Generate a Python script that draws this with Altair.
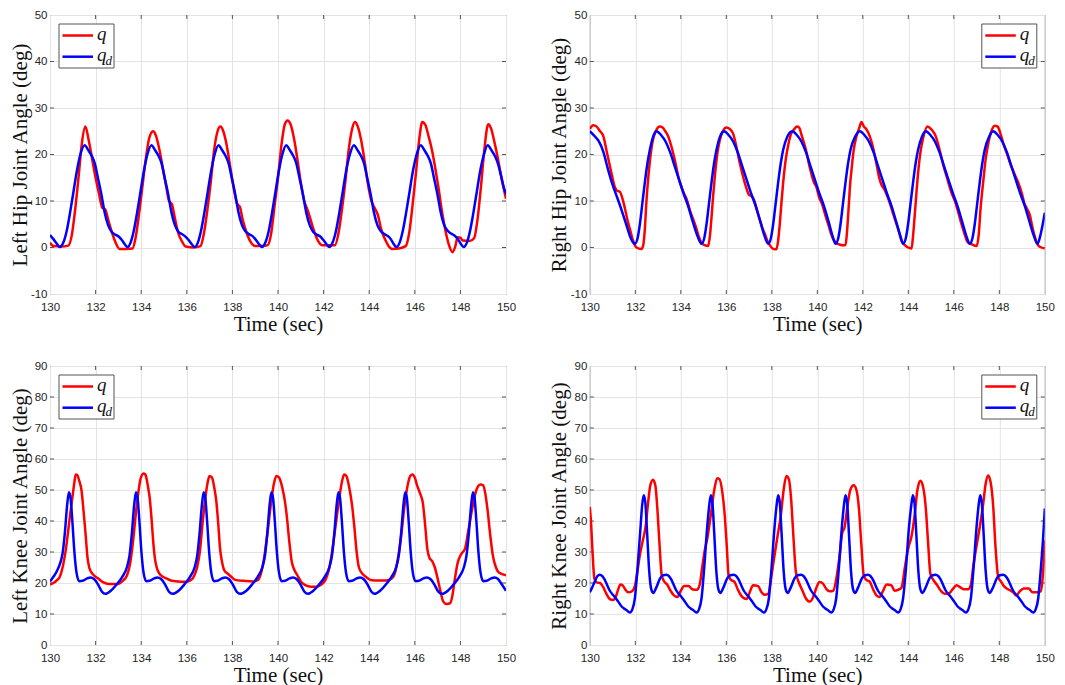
import altair as alt
import pandas as pd

X_TICKS = [130, 132, 134, 136, 138, 140, 142, 144, 146, 148, 150]
HIP_TICKS = [-10, 0, 10, 20, 30, 40, 50]
KNEE_TICKS = [0, 10, 20, 30, 40, 50, 60, 70, 80, 90]

LH_Q = [(130.0, 1.0), (130.15, 0.3), (130.5, 0.2), (130.8, 0.4), (130.95, 2.5), (131.1, 8), (131.25, 15), (131.4, 22.5), (131.55, 26), (131.7, 23), (131.85, 19), (132.0, 15), (132.15, 11.5), (132.3, 8.5), (132.42, 8.2), (132.55, 6), (132.7, 3.5), (132.88, 1), (133.05, -0.3), (133.35, -0.3), (133.62, -0.2), (133.75, 2), (133.9, 7), (134.05, 13), (134.2, 19), (134.35, 23.5), (134.52, 25), (134.65, 24), (134.8, 21), (134.95, 17), (135.1, 13), (135.22, 10), (135.35, 9.3), (135.45, 7), (135.6, 3.5), (135.8, 1.2), (135.95, 0.2), (136.3, 0), (136.6, 0.3), (136.75, 3), (136.9, 8), (137.05, 14), (137.2, 21), (137.35, 25), (137.47, 26), (137.6, 25), (137.75, 22), (137.9, 17.5), (138.05, 13), (138.2, 9.5), (138.33, 8.7), (138.45, 6), (138.6, 3.5), (138.8, 1.2), (139.0, 0.3), (139.3, 0.3), (139.55, 0.5), (139.7, 3), (139.85, 9), (140.0, 15), (140.15, 22), (140.3, 26.5), (140.42, 27.3), (140.55, 26.5), (140.7, 23.5), (140.85, 19), (141.0, 14), (141.15, 10), (141.28, 8.3), (141.4, 6.5), (141.55, 4), (141.75, 1.5), (141.95, 0.5), (142.2, 0.5), (142.5, 0.5), (142.65, 3), (142.8, 8), (142.95, 14), (143.1, 21), (143.25, 25.5), (143.37, 27), (143.5, 26), (143.65, 23), (143.8, 18.5), (143.95, 13.5), (144.1, 10), (144.25, 8.4), (144.38, 7), (144.52, 4), (144.72, 1.5), (144.9, 0), (145.0, -0.3), (145.3, -0.2), (145.6, 0.3), (145.75, 3), (145.9, 9), (146.05, 16), (146.2, 23.5), (146.33, 27), (146.47, 26.3), (146.6, 24), (146.75, 21), (146.9, 17), (147.05, 12.5), (147.2, 7.5), (147.35, 3.5), (147.5, 0.5), (147.65, -1), (147.78, 0.3), (147.88, 2.2), (148.0, 2.1), (148.1, 1.5), (148.4, 1.4), (148.6, 2), (148.75, 6), (148.9, 13), (149.05, 21), (149.22, 26.5), (149.35, 25.5), (149.5, 22.5), (149.65, 19), (149.8, 15), (150.0, 10.5)]

LH_QD = [(130.0, 2.7), (130.15, 1.8), (130.3, 0.8), (130.43, 0.1), (130.58, 1.0), (130.73, 3.5), (130.88, 7.5), (131.03, 12), (131.18, 16.5), (131.33, 20), (131.52, 22), (131.67, 21), (131.85, 19.5), (131.97, 18), (132.1, 15), (132.25, 11.5), (132.4, 7.5), (132.55, 4.8), (132.7, 3.4), (132.85, 2.8), (133.0, 2.4), (133.15, 1.6), (133.28, 0.7), (133.4, 0.1), (133.53, 1.0), (133.67, 3.5), (133.82, 7.5), (133.97, 12), (134.12, 16.5), (134.27, 20), (134.45, 22), (134.6, 21), (134.78, 19.5), (134.9, 18), (135.03, 15), (135.18, 11.5), (135.33, 7.5), (135.48, 4.8), (135.63, 3.4), (135.78, 2.9), (135.93, 2.4), (136.08, 1.6), (136.22, 0.7), (136.35, 0.1), (136.48, 1.0), (136.62, 3.5), (136.77, 7.5), (136.92, 12), (137.07, 16.5), (137.22, 20), (137.39, 22), (137.54, 21), (137.72, 19.5), (137.84, 18), (137.97, 15), (138.12, 11.5), (138.27, 7.5), (138.42, 4.8), (138.57, 3.5), (138.72, 2.9), (138.87, 2.5), (139.02, 1.7), (139.17, 0.7), (139.3, 0.1), (139.44, 1.0), (139.59, 3.5), (139.74, 7.5), (139.89, 12), (140.04, 16.5), (140.19, 20), (140.36, 22), (140.51, 21), (140.69, 19.5), (140.81, 18), (140.94, 15), (141.09, 11.5), (141.24, 7.5), (141.39, 4.8), (141.54, 3.4), (141.69, 2.8), (141.84, 2.4), (141.99, 1.6), (142.13, 0.7), (142.25, 0.1), (142.39, 1.0), (142.54, 3.5), (142.69, 7.5), (142.84, 12), (142.99, 16.5), (143.15, 20), (143.33, 22), (143.48, 21), (143.66, 19.5), (143.78, 18), (143.91, 15), (144.06, 11.5), (144.21, 7.5), (144.36, 4.8), (144.51, 3.5), (144.66, 2.9), (144.81, 2.5), (144.96, 1.7), (145.08, 0.7), (145.19, 0.1), (145.33, 1.0), (145.47, 3.5), (145.62, 7.5), (145.77, 12), (145.92, 16.5), (146.08, 20), (146.26, 22), (146.41, 21), (146.59, 19.5), (146.71, 18), (146.84, 15), (146.99, 11.5), (147.14, 7.5), (147.29, 4.8), (147.44, 3.6), (147.59, 3.0), (147.74, 2.6), (147.89, 1.8), (148.03, 0.7), (148.14, 0.1), (148.28, 1.0), (148.42, 3.5), (148.57, 7.5), (148.72, 12), (148.87, 16.5), (149.03, 20), (149.2, 22), (149.35, 21), (149.53, 19.5), (149.65, 18), (149.78, 15.5), (149.9, 13), (150.0, 11.5)]

RH_Q = [(130.0, 25.5), (130.15, 26.3), (130.3, 26), (130.45, 25), (130.59, 24), (130.75, 20.5), (130.95, 16), (131.1, 13), (131.2, 12.2), (131.32, 12), (131.42, 10.8), (131.54, 8.5), (131.65, 6), (131.76, 4), (131.9, 1.5), (132.05, 0), (132.27, -0.3), (132.35, 0.5), (132.42, 4), (132.49, 10), (132.57, 15), (132.64, 18.5), (132.75, 22.5), (132.9, 25), (133.08, 26), (133.2, 25.8), (133.32, 25), (133.44, 24), (133.6, 21.5), (133.75, 18.5), (133.9, 15), (134.03, 13), (134.15, 11.5), (134.25, 10.5), (134.4, 8), (134.55, 6), (134.69, 4), (134.8, 2.2), (134.91, 1), (135.05, 0.5), (135.2, 0.3), (135.28, 2.5), (135.35, 6.5), (135.42, 11), (135.5, 15.5), (135.6, 20), (135.71, 23), (135.85, 25), (136.0, 25.8), (136.15, 25.5), (136.3, 24.5), (136.45, 21.5), (136.6, 18), (136.75, 15), (136.9, 12.5), (137.0, 11.3), (137.12, 11), (137.22, 10.2), (137.35, 8), (137.47, 6), (137.6, 4), (137.69, 3), (137.8, 1.5), (137.91, 0.5), (138.06, -0.3), (138.2, -0.4), (138.28, 1.5), (138.35, 5), (138.43, 10), (138.5, 14), (138.6, 18.5), (138.72, 22), (138.85, 24.5), (139.0, 25.5), (139.1, 26), (139.2, 25.8), (139.32, 24), (139.5, 21), (139.68, 17), (139.85, 14), (139.96, 13), (140.08, 10.8), (140.2, 9.5), (140.35, 7), (140.48, 5), (140.6, 3), (140.7, 1.8), (140.85, 0.9), (141.0, 0.6), (141.14, 0.5), (141.24, 0.5), (141.3, 3), (141.37, 8), (141.45, 14), (141.5, 16.5), (141.6, 21), (141.7, 23.5), (141.85, 25.8), (141.94, 27), (142.05, 26), (142.15, 25.5), (142.3, 24), (142.45, 21.5), (142.6, 18), (142.72, 15), (142.82, 13.5), (142.95, 12.5), (143.08, 11), (143.19, 9.5), (143.35, 7), (143.55, 4), (143.7, 1.5), (143.85, 0.5), (143.99, 0), (144.14, -0.2), (144.2, 2), (144.26, 5.5), (144.33, 10), (144.43, 16), (144.55, 21), (144.65, 23.5), (144.84, 26), (144.95, 25.7), (145.05, 25.2), (145.2, 24), (145.35, 21.5), (145.55, 17.5), (145.7, 15), (145.82, 13), (145.92, 11.5), (146.05, 10), (146.2, 7.5), (146.34, 5), (146.5, 2.5), (146.6, 1.2), (146.78, 0.7), (147.0, 0.3), (147.1, 3), (147.17, 8), (147.29, 14), (147.4, 19), (147.5, 22), (147.65, 25), (147.8, 26.2), (147.93, 26), (148.05, 24.5), (148.2, 22), (148.35, 20), (148.45, 18.5), (148.65, 16), (148.83, 14), (149.0, 11.5), (149.1, 9.5), (149.2, 8.5), (149.34, 7), (149.45, 4.5), (149.55, 2.5), (149.71, 0.5), (149.85, 0), (150.0, -0.2)]

RH_QD = [(130.0, 25), (130.2, 24), (130.4, 22.8), (130.6, 20.5), (130.8, 16.8), (131.0, 13.5), (131.2, 10.8), (131.4, 8), (131.6, 5), (131.8, 2), (131.98, 0.8), (132.1, 2), (132.2, 5), (132.31, 9.5), (132.42, 14), (132.53, 18), (132.64, 21), (132.78, 23.8), (132.93, 25), (133.13, 24.2), (133.33, 22.8), (133.53, 20.5), (133.73, 17.5), (133.93, 14.5), (134.13, 11.5), (134.33, 8.8), (134.53, 5.5), (134.73, 2.5), (134.91, 0.8), (135.03, 2), (135.13, 5), (135.24, 9.5), (135.35, 14), (135.46, 18), (135.57, 21), (135.72, 23.8), (135.9, 25), (136.1, 24.2), (136.3, 22.8), (136.5, 20.5), (136.7, 17.5), (136.9, 14.5), (137.1, 11.5), (137.3, 8.8), (137.5, 5.5), (137.68, 2.5), (137.84, 0.8), (137.96, 2), (138.06, 5), (138.17, 9.5), (138.28, 14), (138.39, 18), (138.5, 21), (138.68, 23.8), (138.9, 25), (139.1, 24.2), (139.3, 22.8), (139.5, 20.5), (139.7, 17.5), (139.9, 14.5), (140.1, 11.5), (140.3, 8.8), (140.5, 5.5), (140.67, 2.5), (140.8, 0.8), (140.92, 2), (141.02, 5), (141.13, 9.5), (141.24, 14), (141.35, 18), (141.46, 21), (141.66, 23.8), (141.87, 25), (142.07, 24.2), (142.27, 22.8), (142.47, 20.5), (142.67, 17.5), (142.87, 14.5), (143.07, 11.5), (143.27, 8.8), (143.47, 5.5), (143.65, 2.5), (143.77, 0.8), (143.89, 2), (143.99, 5), (144.1, 9.5), (144.21, 14), (144.32, 18), (144.43, 21), (144.6, 23.8), (144.77, 25), (144.97, 24.2), (145.17, 22.8), (145.37, 20.5), (145.57, 17.5), (145.77, 14.5), (145.97, 11.5), (146.17, 8.8), (146.37, 5.5), (146.55, 2.5), (146.7, 0.8), (146.82, 2), (146.92, 5), (147.03, 9.5), (147.14, 14), (147.25, 18), (147.36, 21), (147.55, 23.8), (147.73, 25), (147.93, 24.2), (148.13, 22.8), (148.33, 20.5), (148.53, 17.5), (148.73, 14.5), (148.93, 11.5), (149.13, 8.8), (149.33, 5.5), (149.52, 2.5), (149.68, 0.8), (149.8, 2.5), (149.9, 4.8), (150.0, 7.5)]

LK_Q = [(130.0, 19.5), (130.15, 20), (130.29, 20.8), (130.43, 22), (130.58, 26), (130.7, 31), (130.8, 37), (130.9, 43), (130.99, 48), (131.07, 52.5), (131.13, 55), (131.2, 54.8), (131.28, 53), (131.38, 50), (131.45, 45), (131.51, 40), (131.57, 35), (131.64, 28.5), (131.72, 25), (131.81, 23.5), (131.95, 22.3), (132.1, 21.5), (132.32, 20.3), (132.6, 19.7), (132.97, 19.7), (133.19, 20.7), (133.38, 22.5), (133.52, 26.5), (133.65, 34), (133.76, 42), (133.87, 49), (133.97, 53.5), (134.1, 55.3), (134.18, 55), (134.3, 51), (134.38, 47), (134.45, 41), (134.52, 34), (134.6, 28), (134.68, 25), (134.8, 23), (134.95, 22), (135.1, 21.5), (135.3, 20.8), (135.6, 20.5), (136.0, 20.4), (136.15, 20.8), (136.3, 22), (136.45, 25), (136.57, 30), (136.7, 40), (136.84, 49), (136.93, 53), (137.0, 54.5), (137.1, 54), (137.2, 51), (137.3, 46), (137.38, 39), (137.46, 31), (137.54, 27), (137.65, 24), (137.8, 23), (137.95, 22), (138.12, 21), (138.5, 20.7), (138.9, 20.5), (139.13, 21), (139.25, 23), (139.38, 27.5), (139.52, 35), (139.68, 45), (139.82, 52), (139.93, 54.5), (140.05, 54), (140.18, 51), (140.3, 46.5), (140.38, 42), (140.5, 33), (140.6, 27), (140.7, 24.5), (140.85, 22.5), (141.0, 20.5), (141.2, 19.3), (141.45, 18.8), (141.7, 18.8), (141.9, 19.5), (142.08, 21), (142.22, 24), (142.35, 29), (142.5, 37), (142.68, 47), (142.8, 52.5), (142.9, 55), (143.0, 54.5), (143.12, 51), (143.25, 45), (143.35, 38), (143.45, 30), (143.55, 25), (143.7, 23), (143.85, 22), (144.06, 21), (144.4, 20.8), (144.75, 20.8), (145.0, 21.5), (145.12, 23), (145.25, 27.5), (145.4, 35), (145.55, 45), (145.7, 52), (145.8, 54.5), (145.9, 55), (146.0, 54), (146.1, 51.5), (146.25, 48.5), (146.35, 46), (146.45, 39), (146.55, 31), (146.65, 28), (146.75, 27.2), (146.88, 25), (147.0, 21.5), (147.12, 17.5), (147.25, 14), (147.4, 13.2), (147.55, 13.5), (147.65, 16), (147.75, 21), (147.88, 26.5), (148.05, 29.5), (148.2, 31), (148.35, 37), (148.52, 44), (148.7, 50), (148.88, 51.8), (149.0, 51.5), (149.1, 48.5), (149.2, 43), (149.3, 36), (149.42, 29), (149.56, 25), (149.7, 23.3), (150.0, 22.5)]

LK_QD = [(130.0, 20.5), (130.15, 22), (130.3, 23.8), (130.45, 26.5), (130.55, 29.5), (130.65, 36), (130.75, 45), (130.83, 49.3), (130.9, 47.5), (130.98, 40), (131.07, 30), (131.16, 23.5), (131.28, 20.6), (131.43, 20.7), (131.63, 21.5), (131.78, 21.8), (131.93, 21.3), (132.11, 19.5), (132.28, 17.2), (132.43, 16.5), (132.67, 17.5), (132.92, 19.5), (133.17, 22), (133.37, 25), (133.49, 29), (133.59, 36), (133.69, 45), (133.77, 49.3), (133.84, 47.5), (133.92, 40), (134.01, 30), (134.1, 23.5), (134.22, 20.6), (134.37, 20.7), (134.57, 21.5), (134.72, 21.8), (134.87, 21.3), (135.05, 19.5), (135.22, 17.2), (135.38, 16.5), (135.64, 17.5), (135.89, 19.5), (136.14, 22), (136.34, 25), (136.46, 29), (136.56, 36), (136.66, 45), (136.74, 49.3), (136.81, 47.5), (136.89, 40), (136.98, 30), (137.07, 23.5), (137.19, 20.6), (137.34, 20.7), (137.54, 21.5), (137.69, 21.8), (137.84, 21.3), (138.02, 19.5), (138.19, 17.2), (138.35, 16.5), (138.61, 17.5), (138.86, 19.5), (139.11, 22), (139.31, 25), (139.43, 29), (139.53, 36), (139.63, 45), (139.71, 49.3), (139.78, 47.5), (139.86, 40), (139.95, 30), (140.04, 23.5), (140.16, 20.6), (140.31, 20.7), (140.51, 21.5), (140.66, 21.8), (140.81, 21.3), (140.99, 19.5), (141.16, 17.2), (141.31, 16.5), (141.55, 17.5), (141.8, 19.5), (142.05, 22), (142.25, 25), (142.37, 29), (142.47, 36), (142.57, 45), (142.65, 49.3), (142.72, 47.5), (142.8, 40), (142.89, 30), (142.98, 23.5), (143.1, 20.6), (143.25, 20.7), (143.45, 21.5), (143.6, 21.8), (143.75, 21.3), (143.93, 19.5), (144.1, 17.2), (144.24, 16.5), (144.48, 17.5), (144.73, 19.5), (144.98, 22), (145.18, 25), (145.3, 29), (145.4, 36), (145.5, 45), (145.58, 49.3), (145.65, 47.5), (145.73, 40), (145.82, 30), (145.91, 23.5), (146.03, 20.6), (146.18, 20.7), (146.38, 21.5), (146.53, 21.8), (146.68, 21.3), (146.86, 19.5), (147.03, 17.2), (147.2, 16.5), (147.45, 17.5), (147.7, 19.5), (147.95, 22), (148.15, 25), (148.27, 29), (148.37, 36), (148.47, 45), (148.55, 49.3), (148.62, 47.5), (148.7, 40), (148.79, 30), (148.88, 23.5), (149.0, 20.6), (149.15, 20.7), (149.35, 21.5), (149.5, 21.8), (149.65, 21.3), (149.82, 19.5), (150.0, 17.5)]

RK_Q = [(130.0, 44.5), (130.05, 40), (130.12, 30), (130.2, 21.5), (130.3, 20.2), (130.45, 20), (130.58, 18.8), (130.73, 16.5), (130.88, 14.8), (131.02, 14.5), (131.14, 15.5), (131.25, 18), (131.35, 19.5), (131.45, 19.2), (131.55, 18), (131.69, 17), (131.83, 17.2), (131.98, 19), (132.1, 24), (132.2, 29), (132.34, 34), (132.45, 38), (132.55, 45), (132.66, 51.5), (132.78, 53.3), (132.88, 51.5), (132.96, 45), (133.06, 33), (133.16, 22.5), (133.25, 20.7), (133.4, 19.5), (133.55, 17.5), (133.7, 16), (133.85, 15.5), (134.0, 17.5), (134.15, 19), (134.35, 19), (134.5, 18), (134.7, 17.8), (134.83, 19.5), (134.94, 25), (135.04, 30), (135.18, 35), (135.32, 42), (135.47, 50), (135.6, 53.8), (135.7, 53.5), (135.83, 49), (135.93, 42), (136.02, 32), (136.1, 22.5), (136.2, 21), (136.35, 20.5), (136.5, 18), (136.7, 15.5), (136.89, 14.8), (137.03, 17), (137.18, 19.3), (137.4, 19), (137.55, 17), (137.69, 16.2), (137.84, 16.5), (137.98, 22), (138.1, 28), (138.25, 35), (138.4, 42), (138.52, 50), (138.64, 54.5), (138.75, 53.5), (138.85, 47), (138.95, 35), (139.06, 23.5), (139.2, 20), (139.35, 17.5), (139.5, 15), (139.67, 14), (139.82, 15.5), (139.96, 18.5), (140.1, 20.3), (140.25, 19.8), (140.4, 18), (140.55, 17.3), (140.7, 17.5), (140.85, 22), (141.0, 30), (141.09, 36), (141.2, 38), (141.33, 45), (141.45, 50), (141.6, 51.5), (141.72, 50), (141.83, 44), (141.93, 33), (142.04, 22.5), (142.15, 21), (142.3, 20.5), (142.45, 18), (142.6, 16), (142.75, 15.5), (142.89, 17.5), (143.05, 19.5), (143.25, 19.3), (143.4, 17.5), (143.55, 17.8), (143.7, 18.5), (143.85, 25), (143.99, 31), (144.14, 35), (144.28, 42), (144.4, 50), (144.53, 53), (144.65, 51), (144.76, 45), (144.87, 33), (144.97, 23), (145.1, 21), (145.25, 19.5), (145.43, 17.5), (145.6, 16.5), (145.8, 16.7), (145.95, 18), (146.12, 19.3), (146.3, 18.5), (146.45, 18), (146.63, 18), (146.75, 19.5), (146.85, 25), (147.0, 32), (147.14, 38), (147.3, 46), (147.4, 52), (147.51, 54.7), (147.63, 52), (147.73, 45), (147.83, 32), (147.95, 22), (148.07, 20.5), (148.2, 19), (148.38, 18), (148.61, 17), (148.75, 16), (148.9, 17.3), (149.08, 18.2), (149.3, 18.2), (149.45, 17), (149.65, 17), (149.82, 17.3), (149.92, 23), (150.0, 33.8)]

RK_QD = [(130.0, 17), (130.1, 18.5), (130.22, 20.5), (130.33, 22.2), (130.44, 22.7), (130.55, 22.2), (130.66, 21), (130.77, 19.2), (130.88, 17.5), (131.0, 16.3), (131.1, 15.5), (131.25, 14), (131.39, 12.5), (131.5, 11.8), (131.61, 11.3), (131.76, 10.5), (131.87, 11.5), (131.98, 15), (132.1, 25), (132.23, 38), (132.3, 45), (132.37, 48.3), (132.44, 46), (132.52, 36), (132.61, 24), (132.7, 18), (132.79, 16.8), (132.92, 18.5), (133.09, 21.5), (133.22, 22.5), (133.37, 22.7), (133.48, 22.2), (133.59, 21), (133.7, 19.2), (133.81, 17.5), (133.93, 16.3), (134.03, 15.5), (134.18, 14), (134.32, 12.5), (134.43, 11.8), (134.54, 11.3), (134.69, 10.5), (134.8, 11.5), (134.91, 15), (135.03, 25), (135.16, 38), (135.25, 45), (135.32, 48.3), (135.39, 46), (135.47, 36), (135.56, 24), (135.65, 18), (135.74, 16.8), (135.87, 18.5), (136.04, 21.5), (136.17, 22.5), (136.33, 22.7), (136.44, 22.2), (136.55, 21), (136.66, 19.2), (136.77, 17.5), (136.89, 16.3), (136.99, 15.5), (137.14, 14), (137.28, 12.5), (137.39, 11.8), (137.5, 11.3), (137.65, 10.5), (137.76, 11.5), (137.87, 15), (137.99, 25), (138.12, 38), (138.21, 45), (138.28, 48.3), (138.35, 46), (138.43, 36), (138.52, 24), (138.61, 18), (138.7, 16.8), (138.83, 18.5), (139.0, 21.5), (139.13, 22.5), (139.29, 22.7), (139.4, 22.2), (139.51, 21), (139.62, 19.2), (139.73, 17.5), (139.85, 16.3), (139.95, 15.5), (140.1, 14), (140.24, 12.5), (140.35, 11.8), (140.46, 11.3), (140.61, 10.5), (140.72, 11.5), (140.83, 15), (140.95, 25), (141.08, 38), (141.17, 45), (141.24, 48.3), (141.31, 46), (141.39, 36), (141.48, 24), (141.57, 18), (141.66, 16.8), (141.79, 18.5), (141.96, 21.5), (142.09, 22.5), (142.23, 22.7), (142.34, 22.2), (142.45, 21), (142.56, 19.2), (142.67, 17.5), (142.79, 16.3), (142.89, 15.5), (143.04, 14), (143.18, 12.5), (143.29, 11.8), (143.4, 11.3), (143.55, 10.5), (143.66, 11.5), (143.77, 15), (143.9, 25), (144.03, 38), (144.13, 45), (144.2, 48.3), (144.27, 46), (144.35, 36), (144.44, 24), (144.53, 18), (144.62, 16.8), (144.76, 18.5), (144.93, 21.5), (145.06, 22.5), (145.21, 22.7), (145.32, 22.2), (145.43, 21), (145.54, 19.2), (145.65, 17.5), (145.77, 16.3), (145.87, 15.5), (146.02, 14), (146.16, 12.5), (146.27, 11.8), (146.38, 11.3), (146.53, 10.5), (146.64, 11.5), (146.75, 15), (146.87, 25), (147.0, 38), (147.09, 45), (147.16, 48.3), (147.23, 46), (147.31, 36), (147.4, 24), (147.49, 18), (147.58, 16.8), (147.72, 18.5), (147.89, 21.5), (148.02, 22.5), (148.17, 22.7), (148.28, 22.2), (148.39, 21), (148.5, 19.2), (148.61, 17.5), (148.73, 16.3), (148.83, 15.5), (148.98, 14), (149.12, 12.5), (149.23, 11.8), (149.34, 11.3), (149.49, 10.5), (149.6, 11.5), (149.71, 15), (149.83, 25), (149.93, 35), (150.0, 44)]

RED = "#ff0000"
BLUE = "#0000ff"
FRAME = "#555555"
ONE = pd.DataFrame({"k": [0]})


def panel(q, qd, ytitle, ydomain, yticks, w, h, legend_right):
    dq = pd.DataFrame(q, columns=["t", "v"])
    dd = pd.DataFrame(qd, columns=["t", "v"])
    x = alt.X("t:Q", scale=alt.Scale(domain=[130, 150], nice=False, zero=False),
              axis=alt.Axis(values=X_TICKS, title="Time (sec)", labelExpr="'' + datum.value"))
    y = alt.Y("v:Q", scale=alt.Scale(domain=ydomain, nice=False, zero=False),
              axis=alt.Axis(values=yticks, title=ytitle, labelExpr="'' + datum.value"))
    red = alt.Chart(dq).mark_line(color=RED, strokeWidth=2.5, interpolate="monotone", clip=True).encode(x=x, y=y)
    blue = alt.Chart(dd).mark_line(color=BLUE, strokeWidth=2.5, interpolate="monotone", clip=True).encode(x=x, y=y)

    # inward ticks on all four sides (MATLAB box style)
    xt = pd.DataFrame({"t": X_TICKS[1:-1]})
    yt = pd.DataFrame({"v": yticks[1:-1]})
    tb = alt.Chart(xt).mark_rule(color=FRAME, strokeWidth=1).encode(x=x, y=alt.value(h), y2=alt.value(h - 4))
    tt = alt.Chart(xt).mark_rule(color=FRAME, strokeWidth=1).encode(x=x, y=alt.value(0), y2=alt.value(4))
    tl = alt.Chart(yt).mark_rule(color=FRAME, strokeWidth=1).encode(y=y, x=alt.value(0), x2=alt.value(4))
    tr = alt.Chart(yt).mark_rule(color=FRAME, strokeWidth=1).encode(y=y, x=alt.value(w), x2=alt.value(w - 4))

    bx = w - 63 if legend_right else 9
    box = alt.Chart(ONE).mark_rect(fill="white", stroke=FRAME, strokeWidth=1).encode(
        x=alt.value(bx), x2=alt.value(bx + 55), y=alt.value(9), y2=alt.value(53))
    r1 = alt.Chart(ONE).mark_rule(color=RED, strokeWidth=2.5).encode(
        x=alt.value(bx + 3.5), x2=alt.value(bx + 34), y=alt.value(20.5))
    r2 = alt.Chart(ONE).mark_rule(color=BLUE, strokeWidth=2.5).encode(
        x=alt.value(bx + 3.5), x2=alt.value(bx + 34), y=alt.value(41.7))
    tkw = dict(font="Liberation Serif", fontStyle="italic", align="left", baseline="alphabetic", color="#111111")
    t1 = alt.Chart(ONE).mark_text(text="q", fontSize=19, **tkw).encode(x=alt.value(bx + 38), y=alt.value(25))
    t2 = alt.Chart(ONE).mark_text(text="q", fontSize=19, **tkw).encode(x=alt.value(bx + 38), y=alt.value(46.3))
    t3 = alt.Chart(ONE).mark_text(text="d", fontSize=13, **tkw).encode(x=alt.value(bx + 46.5), y=alt.value(50))
    return alt.layer(tb, tt, tl, tr, red, blue, box, r1, r2, t1, t2, t3).properties(width=w, height=h)


p1 = panel(LH_Q, LH_QD, "Left Hip Joint Angle (deg)", [-10, 50], HIP_TICKS, 456, 279, False)
p2 = panel(RH_Q, RH_QD, "Right Hip Joint Angle (deg)", [-10, 50], HIP_TICKS, 455, 279, True)
p3 = panel(LK_Q, LK_QD, "Left Knee Joint Angle (deg)", [0, 90], KNEE_TICKS, 456, 279, False)
p4 = panel(RK_Q, RK_QD, "Right Knee Joint Angle (deg)", [0, 90], KNEE_TICKS, 455, 279, True)

top = alt.hconcat(p1, p2, spacing=30.8)
bottom = alt.hconcat(p3, p4, spacing=30.8)

chart = alt.vconcat(top, bottom, spacing=24).properties(
    padding={"left": 0, "top": 0, "right": 0, "bottom": 0},
    background="white",
).configure_view(
    stroke=FRAME, strokeWidth=1
).configure_axis(
    labelFont="Liberation Sans", labelFontSize=11.5, labelColor="#262626",
    titleFont="Liberation Serif", titleFontSize=21, titleFontWeight="normal", titleColor="#111111",
    gridColor="#e3e3e3", gridWidth=1, domain=False, ticks=False, tickSize=0, labelFlush=False,
).configure_axisX(
    labelPadding=7, titlePadding=1
).configure_axisY(
    labelPadding=3, titlePadding=0, minExtent=20, maxExtent=20
)

chart.save("out.html", embed_options={"renderer": "svg", "actions": False})
